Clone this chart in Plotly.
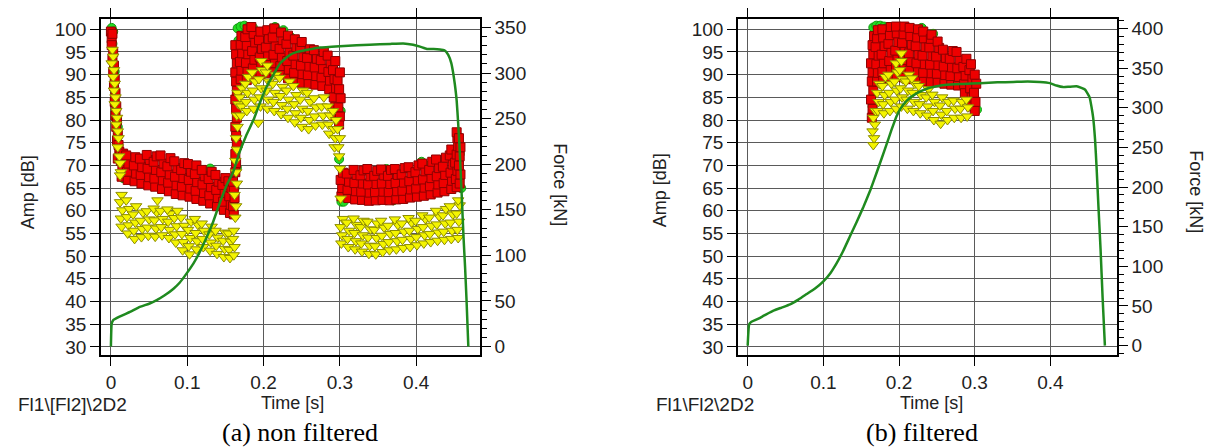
import plotly.graph_objects as go

W, H = 1213, 448

# ---------------- data: (a) non filtered ----------------
FORCE_A = [(0, 0), (0.001, 25), (0.003, 29), (0.012, 33), (0.025, 38), (0.038, 43.5), (0.05, 47),
           (0.06, 51), (0.07, 56), (0.082, 63.5), (0.09, 70), (0.099, 80), (0.108, 91), (0.116, 103),
           (0.125, 119), (0.134, 137), (0.142, 156), (0.151, 176), (0.16, 191), (0.168, 212),
           (0.177, 231), (0.187, 249), (0.195, 267), (0.204, 285), (0.2127, 298), (0.222, 311),
           (0.2346, 320), (0.245, 323.5), (0.26, 326), (0.274, 328), (0.3, 329.5), (0.322, 330.5),
           (0.339, 331), (0.366, 332), (0.383, 332.5), (0.396, 331), (0.405, 329), (0.414, 326.5),
           (0.423, 326.5), (0.431, 326), (0.437, 325), (0.442, 320), (0.446, 311), (0.4485, 300),
           (0.4506, 288), (0.453, 270), (0.455, 245), (0.457, 215), (0.4597, 165), (0.462, 120),
           (0.464, 88), (0.466, 50), (0.4683, 0)]

GREEN_A = [(0.001, 100.3), (0.003, 99.5), (0.002, 96.8), (0.005, 90.7), (0.004, 90.2), (0.009, 78.5),
           (0.016, 67.2), (0.09, 64.9), (0.13, 69.3), (0.165, 69.5), (0.162, 65.0), (0.167, 88.0),
           (0.166, 95.5), (0.167, 97.5), (0.166, 100.2), (0.170, 100.6), (0.175, 100.8), (0.180, 100.5),
           (0.186, 100.4), (0.215, 100.5), (0.226, 99.8), (0.236, 98.2), (0.301, 82.0), (0.299, 71.4),
           (0.302, 62.0), (0.305, 62.0), (0.361, 69.2), (0.37, 62.3), (0.407, 70.8), (0.41, 70.3),
           (0.455, 72.0), (0.457, 72.5), (0.459, 65.0)]

RED_A = [
    # descent from the first burst
    (0.000, 99.5), (0.001, 98.0), (0.002, 99.0), (0.001, 96.5), (0.003, 95.0), (0.002, 93.5),
    (0.004, 92.0), (0.003, 90.5), (0.005, 89.0), (0.004, 87.5), (0.006, 86.0), (0.005, 84.0),
    (0.007, 83.0), (0.006, 81.0), (0.008, 80.0), (0.007, 78.5), (0.009, 77.0), (0.008, 75.5),
    (0.010, 74.5), (0.011, 73.0), (0.012, 72.0), (0.009, 71.5),
    # first plateau
    (0.014, 67.5), (0.015, 69.3), (0.013, 71.0), (0.016, 72.6),
    (0.022, 66.8), (0.021, 68.6), (0.023, 70.4), (0.020, 72.2),
    (0.031, 66.5), (0.033, 68.2), (0.030, 70.0), (0.032, 71.8),
    (0.040, 66.0), (0.039, 67.9), (0.041, 69.6), (0.038, 71.5),
    (0.049, 65.6), (0.050, 67.4), (0.048, 69.3), (0.051, 71.2), (0.047, 72.3),
    (0.058, 65.3), (0.057, 67.1), (0.059, 69.0), (0.056, 70.8), (0.060, 72.0),
    (0.067, 64.8), (0.068, 66.7), (0.066, 68.5), (0.069, 70.4), (0.065, 72.2),
    (0.076, 64.3), (0.075, 66.2), (0.077, 68.0), (0.074, 69.8), (0.078, 71.6),
    (0.085, 63.7), (0.086, 65.6), (0.084, 67.5), (0.087, 69.4), (0.083, 70.9),
    (0.094, 63.4), (0.093, 65.3), (0.095, 67.2), (0.092, 69.0), (0.096, 70.5),
    (0.103, 63.1), (0.104, 64.9), (0.102, 66.8), (0.105, 68.6), (0.101, 70.3),
    (0.112, 62.6), (0.111, 64.4), (0.113, 66.3), (0.110, 68.1), (0.112, 70.0),
    (0.121, 62.2), (0.122, 63.9), (0.120, 65.8), (0.123, 67.6), (0.119, 69.0),
    (0.130, 61.6), (0.129, 63.4), (0.131, 65.2), (0.128, 67.0), (0.132, 68.6),
    (0.139, 61.0), (0.140, 62.8), (0.138, 64.6), (0.141, 66.4), (0.137, 67.9),
    (0.148, 60.2), (0.147, 62.0), (0.149, 63.9), (0.146, 65.7), (0.150, 67.2),
    (0.156, 59.5), (0.157, 61.3), (0.155, 63.2), (0.158, 65.0), (0.154, 66.5),
    (0.161, 59.2), (0.160, 61.0), (0.162, 62.8), (0.161, 64.6), (0.160, 66.4),
    # rise
    (0.163, 68.5), (0.164, 70.5), (0.163, 72.5), (0.165, 74.5), (0.164, 76.5), (0.163, 78.5),
    (0.165, 80.5), (0.164, 82.5), (0.163, 84.5), (0.165, 86.5), (0.164, 88.5), (0.163, 90.5),
    (0.165, 92.5), (0.164, 94.5), (0.163, 96.5),
    # high plateau
    (0.170, 89.0), (0.171, 90.9), (0.169, 92.8), (0.172, 94.7), (0.170, 96.6), (0.171, 98.5),
    (0.178, 88.8), (0.179, 90.7), (0.177, 92.6), (0.180, 94.5), (0.178, 96.4), (0.176, 98.3), (0.179, 100.0),
    (0.187, 89.5), (0.186, 91.4), (0.188, 93.3), (0.185, 95.2), (0.189, 97.1), (0.187, 99.0), (0.184, 100.5),
    (0.196, 90.0), (0.197, 91.9), (0.195, 93.8), (0.198, 95.7), (0.194, 97.6), (0.196, 99.5),
    (0.205, 90.3), (0.204, 92.2), (0.206, 94.1), (0.203, 96.0), (0.207, 97.9), (0.205, 99.8),
    (0.214, 90.6), (0.215, 92.5), (0.213, 94.4), (0.216, 96.3), (0.212, 98.2), (0.214, 100.2),
    (0.223, 90.0), (0.222, 91.9), (0.224, 93.8), (0.221, 95.7), (0.225, 97.6), (0.223, 99.3),
    (0.232, 89.2), (0.233, 91.1), (0.231, 93.0), (0.234, 94.9), (0.230, 96.8), (0.232, 98.6),
    (0.241, 88.5), (0.240, 90.4), (0.242, 92.3), (0.239, 94.2), (0.243, 96.1), (0.241, 97.8),
    (0.250, 88.2), (0.251, 90.1), (0.249, 92.0), (0.252, 93.9), (0.248, 95.8), (0.250, 97.2),
    (0.259, 88.0), (0.258, 89.9), (0.260, 91.8), (0.257, 93.7), (0.261, 95.6),
    (0.268, 87.8), (0.269, 89.7), (0.267, 91.6), (0.270, 93.5), (0.266, 95.4),
    (0.277, 87.5), (0.276, 89.4), (0.278, 91.3), (0.275, 93.2), (0.279, 95.0),
    (0.286, 86.8), (0.287, 88.7), (0.285, 90.6), (0.288, 92.5), (0.284, 94.2),
    (0.293, 81.0), (0.294, 83.0), (0.292, 85.0), (0.295, 87.0), (0.293, 89.0), (0.291, 91.0), (0.294, 93.0),
    (0.299, 79.0), (0.300, 80.8), (0.298, 82.8), (0.301, 84.8), (0.299, 86.8), (0.297, 88.8), (0.300, 90.5),
    # second low plateau
    (0.302, 63.2), (0.303, 65.0), (0.301, 66.8), (0.304, 68.4),
    (0.311, 62.8), (0.310, 64.6), (0.312, 66.4), (0.309, 68.2),
    (0.320, 62.5), (0.321, 64.3), (0.319, 66.1), (0.322, 67.9), (0.318, 69.0),
    (0.329, 62.4), (0.328, 64.2), (0.330, 66.0), (0.327, 67.8), (0.331, 68.9),
    (0.338, 62.2), (0.339, 64.0), (0.337, 65.8), (0.340, 67.6), (0.336, 69.2),
    (0.347, 62.3), (0.346, 64.1), (0.348, 65.9), (0.345, 67.7), (0.349, 68.8),
    (0.356, 62.4), (0.357, 64.2), (0.355, 66.0), (0.358, 67.8), (0.354, 69.1),
    (0.365, 62.3), (0.364, 64.1), (0.366, 65.9), (0.363, 67.7), (0.367, 69.0),
    (0.374, 62.5), (0.375, 64.3), (0.373, 66.1), (0.376, 67.9), (0.372, 69.2),
    (0.383, 62.6), (0.382, 64.4), (0.384, 66.2), (0.381, 68.0), (0.385, 69.4),
    (0.392, 62.9), (0.393, 64.7), (0.391, 66.5), (0.394, 68.3), (0.390, 69.6),
    (0.401, 63.1), (0.400, 64.9), (0.402, 66.7), (0.399, 68.5), (0.403, 70.0),
    (0.410, 63.3), (0.411, 65.1), (0.409, 66.9), (0.412, 68.7), (0.408, 70.4),
    (0.419, 63.6), (0.418, 65.4), (0.420, 67.2), (0.417, 69.0), (0.421, 70.8),
    (0.428, 64.0), (0.429, 65.8), (0.427, 67.6), (0.430, 69.4), (0.426, 71.3),
    (0.437, 64.3), (0.436, 66.1), (0.438, 67.9), (0.435, 69.7), (0.439, 71.7),
    (0.446, 64.8), (0.447, 66.6), (0.445, 68.4), (0.448, 70.2), (0.444, 72.2), (0.446, 73.5),
    (0.453, 65.2), (0.452, 67.0), (0.454, 68.8), (0.451, 70.6), (0.453, 72.4), (0.455, 74.2),
    (0.454, 76.0), (0.453, 77.3),
    (0.457, 66.0), (0.458, 68.0), (0.456, 70.0), (0.457, 72.0), (0.458, 74.0), (0.456, 76.0),
]

YELLOW_A = [
    (0.002, 95.5), (0.003, 94.0), (0.001, 92.5), (0.004, 91.0), (0.003, 89.5), (0.005, 88.0),
    (0.004, 86.5), (0.006, 85.0), (0.005, 83.5), (0.007, 82.0), (0.008, 80.5), (0.007, 79.0),
    (0.009, 77.5), (0.010, 76.0), (0.009, 74.0), (0.011, 72.0), (0.012, 70.5), (0.013, 68.5),
    (0.012, 67.8),
    (0.014, 56.5), (0.013, 58.3), (0.015, 60.1), (0.012, 61.9), (0.014, 63.5),
    (0.022, 55.0), (0.023, 56.8), (0.021, 58.6), (0.024, 60.4), (0.020, 62.3),
    (0.031, 53.8), (0.030, 55.6), (0.032, 57.4), (0.029, 59.2), (0.033, 61.0),
    (0.040, 54.2), (0.041, 56.0), (0.039, 57.8), (0.042, 59.6),
    (0.049, 54.5), (0.048, 56.3), (0.050, 58.1), (0.047, 59.9), (0.061, 62.3),
    (0.058, 54.3), (0.059, 56.1), (0.057, 57.9), (0.060, 59.7), (0.056, 60.5),
    (0.067, 54.6), (0.066, 56.4), (0.068, 58.2), (0.065, 60.0),
    (0.076, 54.0), (0.077, 55.8), (0.075, 57.6), (0.078, 59.4), (0.074, 60.3),
    (0.085, 53.0), (0.084, 54.8), (0.086, 56.6), (0.083, 58.4), (0.087, 60.0),
    (0.094, 51.3), (0.095, 53.1), (0.093, 54.9), (0.096, 56.7), (0.092, 58.5),
    (0.103, 50.4), (0.102, 52.2), (0.104, 54.0), (0.101, 55.8), (0.105, 57.6),
    (0.112, 51.5), (0.113, 53.3), (0.111, 55.1), (0.114, 56.9), (0.110, 58.2),
    (0.121, 52.0), (0.120, 53.8), (0.122, 55.6), (0.119, 57.2),
    (0.130, 51.2), (0.131, 53.0), (0.129, 54.8), (0.132, 56.5),
    (0.139, 50.5), (0.138, 52.3), (0.140, 54.1), (0.137, 55.6),
    (0.148, 49.8), (0.149, 51.6), (0.147, 53.4), (0.150, 55.2),
    (0.156, 49.6), (0.155, 51.4), (0.157, 53.2), (0.154, 55.0),
    (0.161, 50.2), (0.162, 52.0), (0.160, 53.8), (0.161, 55.6),
    (0.163, 58.5), (0.164, 61.0), (0.162, 63.5), (0.165, 66.0), (0.164, 68.5), (0.163, 71.0),
    (0.165, 73.5), (0.164, 76.0), (0.166, 78.5), (0.165, 81.0), (0.167, 83.5), (0.166, 86.0),
    (0.170, 81.0), (0.171, 83.0), (0.169, 85.0), (0.172, 87.0),
    (0.178, 82.0), (0.177, 84.0), (0.179, 86.0), (0.176, 88.0), (0.180, 89.5),
    (0.187, 82.5), (0.188, 84.5), (0.186, 86.5), (0.189, 88.5), (0.185, 90.5),
    (0.196, 83.0), (0.195, 85.0), (0.197, 87.0), (0.194, 89.0), (0.198, 91.0), (0.197, 93.0),
    (0.205, 82.5), (0.206, 84.5), (0.204, 86.5), (0.207, 88.5), (0.203, 90.5), (0.205, 92.0),
    (0.214, 82.0), (0.213, 84.0), (0.215, 86.0), (0.212, 88.0), (0.216, 90.0),
    (0.223, 81.3), (0.224, 83.3), (0.222, 85.3), (0.225, 87.3), (0.221, 89.3),
    (0.232, 80.5), (0.231, 82.5), (0.233, 84.5), (0.230, 86.5), (0.234, 88.5),
    (0.241, 79.5), (0.242, 81.5), (0.240, 83.5), (0.243, 85.5), (0.239, 87.5),
    (0.250, 78.5), (0.249, 80.5), (0.251, 82.5), (0.248, 84.5), (0.252, 86.5),
    (0.259, 78.0), (0.260, 80.0), (0.258, 82.0), (0.261, 84.0), (0.257, 86.0),
    (0.268, 78.8), (0.267, 80.8), (0.269, 82.8), (0.266, 84.8),
    (0.277, 79.0), (0.278, 81.0), (0.276, 83.0), (0.279, 85.0),
    (0.286, 77.0), (0.285, 79.0), (0.287, 81.0), (0.284, 83.0),
    (0.293, 74.0), (0.294, 76.0), (0.292, 78.0), (0.295, 80.0), (0.291, 82.0),
    (0.299, 72.0), (0.298, 74.0), (0.300, 76.0), (0.297, 78.0),
    (0.300, 69.3), (0.301, 62.7), (0.193, 79.4),
    (0.302, 52.8), (0.303, 54.6), (0.301, 56.4), (0.304, 58.2),
    (0.311, 52.0), (0.310, 53.8), (0.312, 55.6), (0.309, 57.4),
    (0.320, 51.5), (0.321, 53.3), (0.319, 55.1), (0.322, 56.9), (0.318, 58.3),
    (0.329, 51.0), (0.328, 52.8), (0.330, 54.6), (0.327, 56.4), (0.331, 57.8),
    (0.338, 50.5), (0.339, 52.3), (0.337, 54.1), (0.340, 55.9), (0.336, 57.6),
    (0.347, 50.4), (0.346, 52.2), (0.348, 54.0), (0.345, 55.8), (0.349, 57.2),
    (0.356, 50.9), (0.357, 52.7), (0.355, 54.5), (0.358, 56.3), (0.354, 57.8),
    (0.365, 51.3), (0.364, 53.1), (0.366, 54.9), (0.363, 56.7),
    (0.374, 51.5), (0.375, 53.3), (0.373, 55.1), (0.376, 56.9), (0.372, 58.1),
    (0.383, 51.8), (0.382, 53.6), (0.384, 55.4), (0.381, 57.2),
    (0.392, 52.0), (0.393, 53.8), (0.391, 55.6), (0.394, 57.4), (0.390, 58.4),
    (0.401, 52.4), (0.400, 54.2), (0.402, 56.0), (0.399, 57.8),
    (0.410, 52.8), (0.411, 54.6), (0.409, 56.4), (0.412, 58.2), (0.408, 59.0),
    (0.419, 53.1), (0.418, 54.9), (0.420, 56.7), (0.417, 58.5),
    (0.428, 53.4), (0.429, 55.2), (0.427, 57.0), (0.430, 58.8), (0.426, 60.0),
    (0.437, 53.6), (0.436, 55.4), (0.438, 57.2), (0.435, 59.0), (0.439, 60.4),
    (0.446, 53.8), (0.447, 55.6), (0.445, 57.4), (0.448, 59.2), (0.444, 61.0),
    (0.455, 54.0), (0.454, 55.8), (0.456, 57.6), (0.453, 59.4), (0.457, 61.2), (0.455, 62.3),
]

# ---------------- data: (b) filtered ----------------
FORCE_B = [(0, 0), (0.002, 27), (0.005, 30), (0.012, 33), (0.022, 38), (0.034, 44), (0.045, 48),
           (0.056, 52), (0.067, 58), (0.078, 65), (0.089, 72), (0.1, 81), (0.109, 91), (0.1176, 104),
           (0.126, 119), (0.135, 137.5), (0.144, 156), (0.153, 175), (0.162, 196), (0.17, 217),
           (0.177, 236), (0.1836, 254), (0.19, 272), (0.197, 290), (0.205, 303), (0.2144, 312.5),
           (0.225, 319), (0.2365, 324), (0.25, 327), (0.263, 329), (0.285, 330), (0.307, 331),
           (0.33, 332), (0.351, 332.5), (0.37, 333), (0.386, 332.5), (0.3994, 331), (0.408, 328),
           (0.417, 326), (0.425, 326.5), (0.4346, 327), (0.441, 325), (0.4456, 323), (0.449, 318),
           (0.452, 312.5), (0.4545, 300), (0.4565, 287.5), (0.459, 260), (0.461, 225), (0.4635, 175),
           (0.4663, 121), (0.469, 60), (0.472, 0)]

GREEN_B = [(0.166, 100.4), (0.170, 100.8), (0.175, 100.8), (0.180, 100.6), (0.185, 100.5),
           (0.168, 96.2), (0.166, 88.2), (0.165, 83.0), (0.23, 100.3), (0.245, 99.0),
           (0.303, 82.3), (0.300, 87.5)]

RED_B = [
    (0.164, 80.5), (0.165, 82.5), (0.163, 84.5), (0.166, 86.5), (0.164, 88.5), (0.165, 90.5),
    (0.163, 92.5), (0.166, 94.5), (0.165, 96.5), (0.167, 98.5),
    (0.171, 88.5), (0.172, 90.4), (0.170, 92.3), (0.173, 94.2), (0.169, 96.1), (0.171, 98.0), (0.172, 99.8),
    (0.179, 88.7), (0.178, 90.6), (0.180, 92.5), (0.177, 94.4), (0.181, 96.3), (0.179, 98.2), (0.178, 100.0),
    (0.188, 89.2), (0.189, 91.1), (0.187, 93.0), (0.190, 94.9), (0.186, 96.8), (0.188, 98.7), (0.189, 100.5),
    (0.197, 89.6), (0.196, 91.5), (0.198, 93.4), (0.195, 95.3), (0.199, 97.2), (0.197, 99.1), (0.196, 100.6),
    (0.206, 89.4), (0.207, 91.3), (0.205, 93.2), (0.208, 95.1), (0.204, 97.0), (0.206, 98.9), (0.207, 100.6),
    (0.215, 89.0), (0.214, 90.9), (0.216, 92.8), (0.213, 94.7), (0.217, 96.6), (0.215, 98.5), (0.214, 100.3),
    (0.224, 88.7), (0.225, 90.6), (0.223, 92.5), (0.226, 94.4), (0.222, 96.3), (0.224, 98.2), (0.225, 100.0),
    (0.233, 88.5), (0.232, 90.4), (0.234, 92.3), (0.231, 94.2), (0.235, 96.1), (0.233, 98.0), (0.232, 99.5),
    (0.242, 88.4), (0.243, 90.3), (0.241, 92.2), (0.244, 94.1), (0.240, 96.0), (0.242, 97.9), (0.243, 98.8),
    (0.251, 88.3), (0.250, 90.2), (0.252, 92.1), (0.249, 94.0), (0.253, 95.9), (0.251, 97.3),
    (0.260, 88.0), (0.261, 89.9), (0.259, 91.8), (0.262, 93.7), (0.258, 95.5),
    (0.269, 87.8), (0.268, 89.7), (0.270, 91.6), (0.267, 93.5), (0.271, 95.2),
    (0.278, 87.6), (0.279, 89.5), (0.277, 91.4), (0.280, 93.3), (0.276, 95.0),
    (0.287, 86.0), (0.286, 87.9), (0.288, 89.8), (0.285, 91.7), (0.289, 93.5),
    (0.295, 83.0), (0.296, 85.0), (0.294, 87.0), (0.297, 89.0), (0.293, 91.0), (0.295, 92.3),
    (0.300, 82.0), (0.301, 84.0), (0.299, 86.0), (0.302, 88.0), (0.300, 90.0),
]

YELLOW_B = [
    (0.166, 74.5), (0.167, 76.0), (0.165, 77.5), (0.168, 79.0), (0.166, 80.5), (0.169, 82.0),
    (0.172, 82.0), (0.173, 84.0), (0.171, 86.0), (0.174, 88.0),
    (0.180, 81.5), (0.179, 83.5), (0.181, 85.5), (0.178, 87.5), (0.182, 89.5),
    (0.188, 82.0), (0.189, 84.0), (0.187, 86.0), (0.190, 88.0), (0.186, 90.0),
    (0.196, 82.5), (0.195, 84.5), (0.197, 86.5), (0.194, 88.5), (0.198, 90.5), (0.196, 92.5),
    (0.203, 83.0), (0.204, 85.0), (0.202, 87.0), (0.205, 89.0), (0.201, 91.0), (0.203, 93.0), (0.203, 94.7),
    (0.211, 82.5), (0.210, 84.5), (0.212, 86.5), (0.209, 88.5), (0.213, 90.0),
    (0.219, 82.0), (0.220, 84.0), (0.218, 86.0), (0.221, 88.0), (0.217, 89.2),
    (0.228, 81.5), (0.227, 83.5), (0.229, 85.5), (0.226, 87.5),
    (0.237, 81.0), (0.238, 83.0), (0.236, 85.0), (0.239, 86.8),
    (0.246, 80.0), (0.245, 82.0), (0.247, 84.0), (0.244, 85.6),
    (0.255, 79.2), (0.256, 81.2), (0.254, 83.2), (0.257, 85.0),
    (0.264, 80.0), (0.263, 82.0), (0.265, 84.0),
    (0.273, 80.5), (0.274, 82.5), (0.272, 84.3),
    (0.282, 80.5), (0.281, 82.5), (0.283, 84.0),
    (0.290, 80.8), (0.291, 82.8), (0.289, 84.5),
]

X_TICKS = [0, 0.1, 0.2, 0.3, 0.4]
X_TICK_TEXT = ["0", "0.1", "0.2", "0.3", "0.4"]
AMP_TICKS = list(range(30, 101, 5))
FORCE_TICKS_A = list(range(0, 351, 50))
FORCE_TICKS_B = list(range(0, 401, 50))

# ---------------- figure ----------------
FONT = "Liberation Sans, Arial, sans-serif"
SERIF = "Liberation Serif, Times New Roman, serif"
TXT = "#222222"
GRID = "#5a5a5a"

fig = go.Figure()


def add_panel(xa, ya, ya2, green, red, yellow, force):
    fig.add_trace(go.Scatter(
        x=[p[0] for p in green], y=[p[1] for p in green], mode="markers", xaxis=xa, yaxis=ya,
        marker=dict(symbol="circle", size=9, color="#22dd22", line=dict(color="#119911", width=1)),
        showlegend=False, hoverinfo="skip"))
    fig.add_trace(go.Scatter(
        x=[p[0] for p in red], y=[p[1] for p in red], mode="markers", xaxis=xa, yaxis=ya,
        marker=dict(symbol="square", size=9, color="#ee0000", line=dict(color="#8e0000", width=1)),
        showlegend=False, hoverinfo="skip"))
    fig.add_trace(go.Scatter(
        x=[p[0] for p in yellow], y=[p[1] for p in yellow], mode="markers", xaxis=xa, yaxis=ya,
        marker=dict(symbol="triangle-down", size=10, color="#f4f400", line=dict(color="#8c8c00", width=1)),
        showlegend=False, hoverinfo="skip"))
    fig.add_trace(go.Scatter(
        x=[p[0] for p in force], y=[p[1] for p in force], mode="lines", xaxis=xa, yaxis=ya2,
        line=dict(color="#1f8a1f", width=2.5, shape="spline", smoothing=0.4),
        showlegend=False, hoverinfo="skip"))


add_panel("x", "y", "y2", GREEN_A, RED_A, YELLOW_A, FORCE_A)
add_panel("x2", "y3", "y4", GREEN_B, RED_B, YELLOW_B, FORCE_B)

Y_DOM = [1 - 356.5 / H, 1 - 17 / H]

xcommon = dict(tickvals=X_TICKS, ticktext=X_TICK_TEXT, showgrid=True, gridcolor=GRID, gridwidth=1,
               ticks="outside", ticklen=9, tickcolor="black", mirror="ticks", showline=True,
               linecolor="black", linewidth=1.5, zeroline=False,
               tickfont=dict(family=FONT, size=19, color=TXT))
ycommon = dict(tickvals=AMP_TICKS, range=[28.14, 102.3], showgrid=True, gridcolor=GRID, gridwidth=1,
               ticks="outside", ticklen=9, tickcolor="black", showline=True, mirror=True,
               linecolor="black", linewidth=1.5, zeroline=False, domain=Y_DOM,
               tickfont=dict(family=FONT, size=19, color=TXT))
y2common = dict(side="right", showgrid=False, ticks="outside", ticklen=9, tickcolor="black",
                showline=True, linecolor="black", linewidth=1.5, zeroline=False,
                minor=dict(dtick=10, tick0=0, ticks="outside", ticklen=5, tickcolor="black", showgrid=False),
                tickfont=dict(family=FONT, size=19, color=TXT))

fig.update_layout(
    width=W, height=H, margin=dict(l=0, r=0, t=0, b=0),
    paper_bgcolor="white", plot_bgcolor="white",
    xaxis=dict(domain=[101 / W, 480 / W], range=[-0.013, 0.4836], anchor="y", **xcommon),
    yaxis=dict(anchor="x", **ycommon),
    yaxis2=dict(overlaying="y", anchor="x", range=[-9.6, 359.5], tickvals=FORCE_TICKS_A, **y2common),
    xaxis2=dict(domain=[738 / W, 1117 / W], range=[-0.0128, 0.488], anchor="y3", **xcommon),
    yaxis3=dict(anchor="x2", **ycommon),
    yaxis4=dict(overlaying="y3", anchor="x2", range=[-12.25, 412.1], tickvals=FORCE_TICKS_B, **y2common),
)


def label(text, px, py, size=18, angle=0, family=FONT, color=TXT):
    fig.add_annotation(text=text, x=px / W, y=1 - py / H, xref="paper", yref="paper",
                       showarrow=False, textangle=angle, xanchor="center", yanchor="middle",
                       font=dict(family=family, size=size, color=color))


label("Amp [dB]", 28, 192, angle=-90)
label("Force [kN]", 560, 184, angle=90)
label("Fl1\\[Fl2]\\2D2", 72, 406, size=19)
label("Time [s]", 292, 405)
label("(a) non filtered", 300, 434, size=26, family=SERIF, color="black")

label("Amp [dB]", 660, 190, angle=-90)
label("Force [kN]", 1196, 191, angle=90)
label("Fl1\\Fl2\\2D2", 705, 406, size=19)
label("Time [s]", 932, 405)
label("(b) filtered", 922, 434, size=26, family=SERIF, color="black")

fig.write_html("out.html")
